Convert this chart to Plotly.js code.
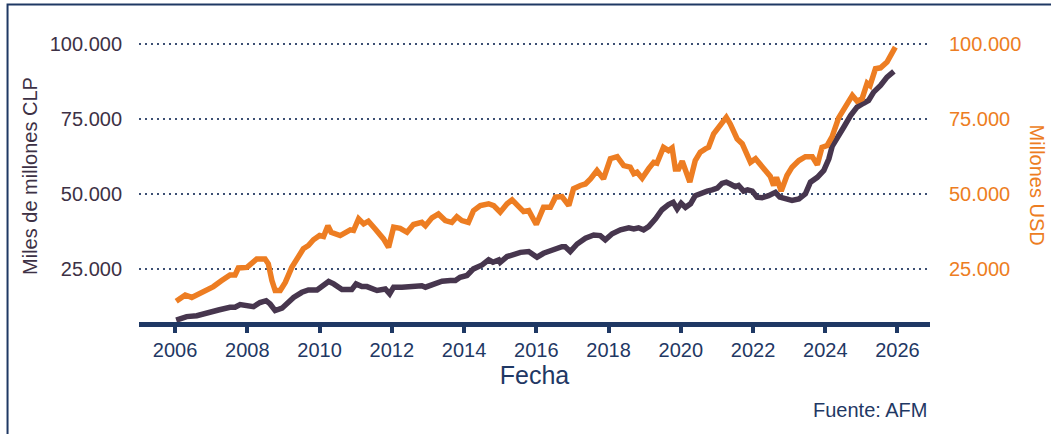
<!DOCTYPE html>
<html>
<head>
<meta charset="utf-8">
<script src="https://cdn.plot.ly/plotly-3.0.1.min.js"></script>
<style>
  html, body { margin: 0; padding: 0; background: #ffffff; }
  #chart { width: 1051px; height: 434px; }
</style>
</head>
<body>
<div id="chart"></div>
<script>
// ---- Data (x as decimal years) ----
const clpDates = [2006.03,2006.32,2006.60,2006.92,2007.20,2007.52,2007.66,2007.80,2007.99,2008.17,2008.35,2008.52,2008.63,2008.77,2008.96,2009.09,2009.28,2009.51,2009.69,2009.93,2010.11,2010.25,2010.39,2010.62,2010.89,2011.01,2011.17,2011.31,2011.59,2011.82,2011.94,2012.05,2012.28,2012.49,2012.83,2012.93,2013.16,2013.39,2013.62,2013.76,2013.89,2014.08,2014.26,2014.50,2014.68,2014.80,2014.96,2015.00,2015.19,2015.37,2015.56,2015.79,2015.88,2016.02,2016.20,2016.39,2016.53,2016.71,2016.80,2016.94,2017.13,2017.36,2017.59,2017.77,2017.91,2018.10,2018.33,2018.56,2018.70,2018.83,2018.97,2019.11,2019.30,2019.48,2019.66,2019.79,2019.90,2020.01,2020.13,2020.27,2020.40,2020.54,2020.73,2020.87,2021.01,2021.14,2021.26,2021.37,2021.51,2021.60,2021.74,2021.85,2021.98,2022.11,2022.25,2022.43,2022.53,2022.62,2022.74,2022.90,2023.08,2023.27,2023.45,2023.59,2023.78,2023.96,2024.10,2024.19,2024.33,2024.51,2024.70,2024.88,2025.06,2025.20,2025.34,2025.53,2025.71,2025.85,2025.90];
const clpValues = [7800,9000,9300,10100,11200,12100,12100,13000,12600,12300,13700,14300,13200,11000,11800,13200,15400,17100,17900,17900,19300,20700,19900,18000,18000,19900,19000,19000,17700,18200,16600,18800,18800,19000,19300,18800,19900,20800,21000,21000,22100,22700,24900,26200,27900,27100,27900,27100,29000,29900,30400,30700,30100,28800,30100,31000,31200,32300,32300,30700,33200,35100,36200,36000,34600,36600,37900,38600,38200,38600,37900,39000,41600,44600,46300,47100,44900,46800,45400,46600,49300,50100,50800,51200,51800,53400,53800,53200,52300,52700,50800,51200,50800,48800,48600,49300,49900,50400,48800,48200,47700,48200,49900,53800,55400,57700,61600,65700,68200,72100,76000,78800,80100,81000,83800,86000,88800,90400,90700];

const usdDates = [2006.03,2006.28,2006.46,2006.65,2006.88,2007.06,2007.29,2007.52,2007.66,2007.75,2007.99,2008.26,2008.49,2008.58,2008.68,2008.77,2008.91,2009.05,2009.23,2009.42,2009.55,2009.69,2009.83,2010.00,2010.11,2010.23,2010.32,2010.57,2010.85,2010.94,2011.08,2011.22,2011.35,2011.54,2011.77,2011.91,2012.05,2012.23,2012.42,2012.60,2012.83,2012.93,2013.11,2013.29,2013.48,2013.66,2013.80,2013.94,2014.12,2014.26,2014.45,2014.68,2014.82,2015.00,2015.19,2015.33,2015.51,2015.65,2015.79,2016.00,2016.20,2016.39,2016.53,2016.71,2016.90,2017.03,2017.22,2017.36,2017.50,2017.68,2017.86,2018.05,2018.24,2018.42,2018.60,2018.70,2018.79,2018.93,2019.11,2019.25,2019.34,2019.52,2019.66,2019.76,2019.85,2019.94,2020.04,2020.25,2020.40,2020.54,2020.68,2020.77,2020.91,2021.10,2021.26,2021.37,2021.56,2021.70,2021.82,2021.93,2022.07,2022.20,2022.34,2022.48,2022.57,2022.65,2022.78,2022.94,2023.08,2023.27,2023.45,2023.64,2023.78,2023.91,2024.05,2024.19,2024.37,2024.56,2024.75,2024.88,2025.02,2025.16,2025.24,2025.39,2025.53,2025.71,2025.94];
const usdValues = [14100,16200,15400,16600,18200,19000,21000,22900,22900,25200,25400,28200,28200,26600,21000,17700,17700,20400,25400,29300,31600,32700,34600,36000,35700,39300,37100,36000,37900,37700,41600,39900,40800,38200,34900,32100,38800,38400,37100,39700,40400,39300,41900,43200,41000,40400,42300,41000,40400,44300,46000,46600,46000,43800,46600,47900,45400,44000,44300,39700,45400,45400,48800,49000,46000,51600,52700,53200,54900,57700,54900,61600,62300,59300,58800,56600,57100,55100,58300,60400,60100,65400,64300,65200,58200,58200,60800,53800,61000,63800,64900,65400,69900,73200,75400,73200,68200,66600,62700,60400,61600,59900,58200,55700,52700,55400,50800,56000,58800,61000,62300,62300,59600,65400,66000,69000,75200,78600,82700,80800,81600,86800,86000,91600,91900,93800,98800];

const xTickVals = [2006,2008,2010,2012,2014,2016,2018,2020,2022,2024,2026];
const xTickText = ["2006","2008","2010","2012","2014","2016","2018","2020","2022","2024","2026"];
const yTickVals = [25000,50000,75000,100000];
const yTickText = ["25.000","50.000","75.000","100.000"];

const seriesNames = ["Miles de millones CLP", "Millones USD"];

// ---- Styles ----
const NAVY = "#1f3864";
const PURPLE = "#47364e";
const ORANGE = "#ed7d22";
const FONT = "Liberation Sans, Arial, sans-serif";
const yRange = [7200, 104500];

const traces = [
  {
    x: clpDates, y: clpValues, name: seriesNames[0], type: "scatter", mode: "lines",
    line: { color: PURPLE, width: 5.5 }, yaxis: "y", hoverinfo: "skip"
  },
  {
    x: usdDates, y: usdValues, name: seriesNames[1], type: "scatter", mode: "lines",
    line: { color: ORANGE, width: 5.5 }, yaxis: "y2", hoverinfo: "skip"
  }
];

const layout = {
  width: 1051, height: 434,
  margin: { l: 139, r: 121, t: 30, b: 112 },
  paper_bgcolor: "#ffffff", plot_bgcolor: "#ffffff",
  showlegend: false,
  font: { family: FONT, size: 20, color: NAVY },
  xaxis: {
    range: [2005.0, 2026.9],
    tickvals: xTickVals, ticktext: xTickText,
    showgrid: false, zeroline: false,
    showline: true, linecolor: NAVY, linewidth: 5,
    ticks: "outside", ticklen: 6, tickwidth: 4, tickcolor: NAVY,
    tickfont: { family: FONT, size: 20, color: NAVY },
    title: { text: "Fecha", font: { family: FONT, size: 25, color: NAVY }, standoff: 8 }
  },
  yaxis: {
    range: yRange,
    tickvals: yTickVals, ticktext: yTickText,
    showgrid: true, gridcolor: "#3c4f73", gridwidth: 2, griddash: "2px,4px",
    zeroline: false, showline: false,
    ticks: "outside", ticklen: 12, tickcolor: "rgba(0,0,0,0)",
    tickfont: { family: FONT, size: 20, color: "#3d3145" },
    title: { text: seriesNames[0], font: { family: FONT, size: 20, color: "#3d3145" }, standoff: 6 }
  },
  yaxis2: {
    range: yRange, overlaying: "y", side: "right",
    tickvals: yTickVals, ticktext: yTickText,
    showgrid: false, zeroline: false, showline: false,
    ticks: "outside", ticklen: 14, tickcolor: "rgba(0,0,0,0)",
    tickfont: { family: FONT, size: 20, color: ORANGE }
  },
  annotations: [
    {
      text: seriesNames[1], xref: "paper", yref: "paper",
      x: 1.1355, y: 0.47, xanchor: "center", yanchor: "middle",
      textangle: 90, showarrow: false,
      font: { family: FONT, size: 20, color: ORANGE }
    },
    {
      text: "Fuente: AFM", xref: "paper", yref: "paper",
      x: 1.0, y: -0.30, xanchor: "right", yanchor: "middle",
      showarrow: false,
      font: { family: FONT, size: 20, color: NAVY }
    }
  ],
  shapes: [
    {
      type: "rect", xref: "paper", yref: "paper",
      x0: -0.1662, x1: 1.3, y0: -0.6, y1: 1.0873,
      line: { color: NAVY, width: 2 }, fillcolor: "rgba(0,0,0,0)", layer: "below"
    }
  ]
};

Plotly.newPlot("chart", traces, layout, { staticPlot: true, displayModeBar: false });
</script>
</body>
</html>
